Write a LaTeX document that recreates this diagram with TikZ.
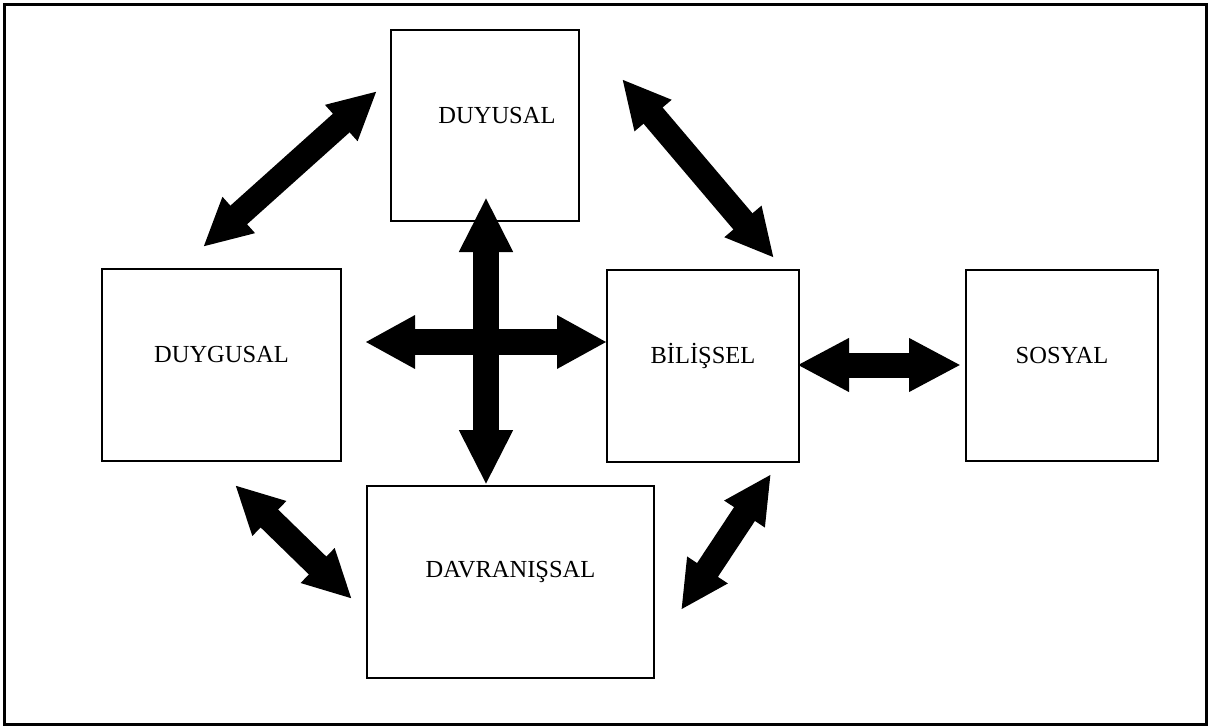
\documentclass[tikz,border=0pt]{standalone}
\usepackage{fontspec}
\setmainfont{Liberation Serif}
\usetikzlibrary{arrows.meta}
\tikzset{
  boxnode/.style={draw=black, line width=2pt, rectangle, inner sep=0pt, font=\fontsize{24.5}{26}\selectfont},
  bigarrow/.style={line width=26pt, {Triangle[width=50pt,length=55pt]}-{Triangle[width=50pt,length=55pt]}},
  diagarrow/.style={line width=25pt, {Triangle[width=45pt,length=48pt]}-{Triangle[width=45pt,length=48pt]}},
}
\newcommand{\uptext}[1]{\raisebox{10pt}[\height][\depth]{#1}}
\begin{document}
\begin{tikzpicture}[x=1pt,y=-1pt]
\useasboundingbox (0,0) rectangle (1214,727);
\draw[line width=2.5pt] (4.5,4.5) rectangle (1206.5,724.5);

\node[boxnode, minimum width=188pt, minimum height=191pt] (duyusal) at (485,125.5) {\uptext{\hspace*{24pt}DUYUSAL}};
\node[boxnode, minimum width=239pt, minimum height=192pt] (duygusal) at (221.5,365) {\uptext{DUYGUSAL}};
\node[boxnode, minimum width=192pt, minimum height=192pt] (bilissel) at (703,366) {\uptext{BİLİŞSEL}};
\node[boxnode, minimum width=192pt, minimum height=191pt] (sosyal) at (1062,365.5) {\uptext{SOSYAL}};
\node[boxnode, minimum width=287pt, minimum height=192pt] (davranissal) at (510.5,582) {\uptext{DAVRANIŞSAL}};

% arrow end points
\coordinate (vt) at (486,197);
\coordinate (vb) at (486,485);
\coordinate (hl) at (365,342);
\coordinate (hr) at (607,342);
\coordinate (sl) at (797,365);
\coordinate (sr) at (961,365);
\coordinate (a1) at (377,91);
\coordinate (a2) at (203,247);
\coordinate (b1) at (622,79);
\coordinate (b2) at (774,258);
\coordinate (c1) at (235,485);
\coordinate (c2) at (352,599);
\coordinate (d1) at (771,474);
\coordinate (d2) at (681,610);

\draw[bigarrow] (vt) -- (vb);
\draw[bigarrow, {Triangle[width=50pt,length=50pt]}-{Triangle[width=50pt,length=50pt]}] (hl) -- (hr);
\draw[bigarrow, line width=25pt, {Triangle[width=50pt,length=52pt]}-{Triangle[width=50pt,length=52pt]}] (sl) -- (sr);
\draw[diagarrow] (a1) -- (a2);
\draw[diagarrow] (b1) -- (b2);
\draw[diagarrow] (c1) -- (c2);
\draw[diagarrow] (d1) -- (d2);
\end{tikzpicture}
\end{document}
